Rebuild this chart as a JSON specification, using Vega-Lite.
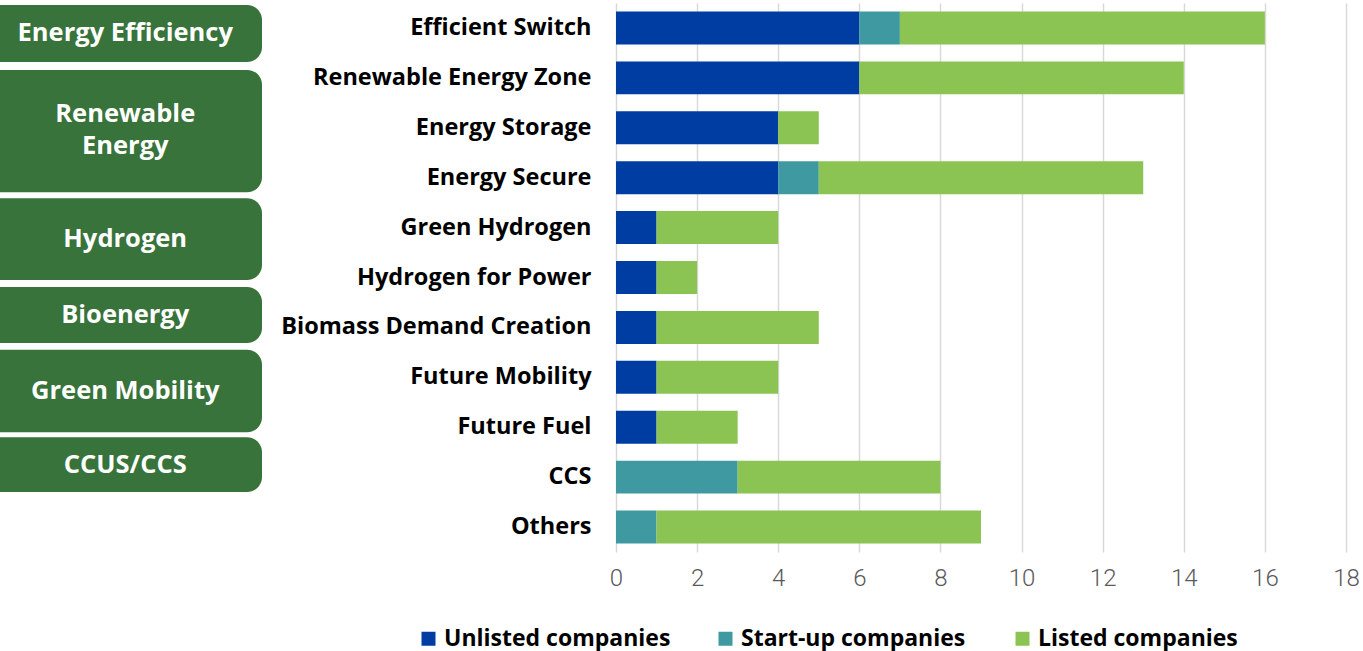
{
  "$schema": "https://vega.github.io/schema/vega-lite/v6.json",
  "padding": {"left": 0, "top": 3, "right": 6, "bottom": 6},
  "background": "white",
  "spacing": 354,
  "bounds": "flush",
  "config": {"view": {"stroke": null}, "font": "Open Sans"},
  "hconcat": [
    {
      "width": 262,
      "height": 549,
      "data": {
        "values": [
          {"group": "Energy Efficiency", "start": 0.04, "end": 1.18, "labelRow": 0.61},
          {"group": "Renewable Energy", "start": 1.34, "end": 3.79, "labelRow": 2.23},
          {"group": "Hydrogen", "start": 3.91, "end": 5.55, "labelRow": 4.73},
          {"group": "Bioenergy", "start": 5.69, "end": 6.81, "labelRow": 6.25},
          {"group": "Green Mobility", "start": 6.95, "end": 8.6, "labelRow": 7.78},
          {"group": "CCUS/CCS", "start": 8.7, "end": 9.8, "labelRow": 9.25}
        ]
      },
      "layer": [
        {
          "mark": {"type": "rect", "color": "#37733A", "cornerRadiusTopRight": 15, "cornerRadiusBottomRight": 15},
          "encoding": {
            "x": {"datum": 0, "type": "quantitative", "scale": {"domain": [0, 1]}, "axis": null},
            "x2": {"datum": 1},
            "y": {"field": "start", "type": "quantitative", "scale": {"domain": [0, 11], "reverse": true}, "axis": null},
            "y2": {"field": "end"}
          }
        },
        {
          "mark": {"type": "text", "color": "white", "fontWeight": "bold", "fontSize": 25.5, "font": "Open Sans", "lineBreak": "\n", "lineHeight": 32, "align": "center", "baseline": "middle"},
          "encoding": {
            "x": {"datum": 0.478, "type": "quantitative"},
            "y": {"field": "labelRow", "type": "quantitative"},
            "text": {"field": "group"}
          },
          "transform": [{"calculate": "datum.group == 'Renewable Energy' ? 'Renewable\\nEnergy' : datum.group", "as": "group"}]
        }
      ]
    },
    {
      "width": 730,
      "height": 549,
      "data": {
        "values": [
          {"category": "Efficient Switch", "type": "Unlisted companies", "count": 6},
          {"category": "Efficient Switch", "type": "Start-up companies", "count": 1},
          {"category": "Efficient Switch", "type": "Listed companies", "count": 9},
          {"category": "Renewable Energy Zone", "type": "Unlisted companies", "count": 6},
          {"category": "Renewable Energy Zone", "type": "Listed companies", "count": 8},
          {"category": "Energy Storage", "type": "Unlisted companies", "count": 4},
          {"category": "Energy Storage", "type": "Listed companies", "count": 1},
          {"category": "Energy Secure", "type": "Unlisted companies", "count": 4},
          {"category": "Energy Secure", "type": "Start-up companies", "count": 1},
          {"category": "Energy Secure", "type": "Listed companies", "count": 8},
          {"category": "Green Hydrogen", "type": "Unlisted companies", "count": 1},
          {"category": "Green Hydrogen", "type": "Listed companies", "count": 3},
          {"category": "Hydrogen for Power", "type": "Unlisted companies", "count": 1},
          {"category": "Hydrogen for Power", "type": "Listed companies", "count": 1},
          {"category": "Biomass Demand Creation", "type": "Unlisted companies", "count": 1},
          {"category": "Biomass Demand Creation", "type": "Listed companies", "count": 4},
          {"category": "Future Mobility", "type": "Unlisted companies", "count": 1},
          {"category": "Future Mobility", "type": "Listed companies", "count": 3},
          {"category": "Future Fuel", "type": "Unlisted companies", "count": 1},
          {"category": "Future Fuel", "type": "Listed companies", "count": 2},
          {"category": "CCS", "type": "Start-up companies", "count": 3},
          {"category": "CCS", "type": "Listed companies", "count": 5},
          {"category": "Others", "type": "Start-up companies", "count": 1},
          {"category": "Others", "type": "Listed companies", "count": 8}
        ]
      },
      "mark": {"type": "bar"},
      "encoding": {
        "y": {
          "field": "category",
          "type": "nominal",
          "sort": ["Efficient Switch", "Renewable Energy Zone", "Energy Storage", "Energy Secure", "Green Hydrogen", "Hydrogen for Power", "Biomass Demand Creation", "Future Mobility", "Future Fuel", "CCS", "Others"],
          "scale": {"paddingInner": 0.34, "paddingOuter": 0.17},
          "axis": {
            "title": null, "domain": false, "ticks": false, "labelPadding": 25,
            "labelFontSize": 23.5, "labelFontWeight": "bold", "labelColor": "#000000",
            "labelFont": "Open Sans", "labelLimit": 400
          }
        },
        "x": {
          "field": "count",
          "type": "quantitative",
          "stack": "zero",
          "scale": {"domain": [0, 18], "nice": false},
          "axis": {
            "title": null, "values": [0, 2, 4, 6, 8, 10, 12, 14, 16, 18], "domain": false, "ticks": false,
            "grid": true, "gridColor": "#d9d9d9", "gridWidth": 1.5,
            "labelFont": "Roboto", "labelFontWeight": 300, "labelFontSize": 24, "labelColor": "#595959",
            "labelPadding": 14, "labelFlush": false
          }
        },
        "color": {
          "field": "type",
          "type": "nominal",
          "scale": {
            "domain": ["Unlisted companies", "Start-up companies", "Listed companies"],
            "range": ["#003DA3", "#3E9AA0", "#8BC452"]
          },
          "legend": {
            "title": null, "orient": "none", "legendX": 417, "legendY": 624,
            "direction": "horizontal", "columns": 3, "gridAlign": "all", "columnPadding": 43,
            "symbolType": "square", "symbolSize": 196, "symbolStrokeWidth": 0, "symbolOpacity": 1,
            "labelFont": "Open Sans", "labelFontWeight": "bold", "labelFontSize": 23,
            "labelColor": "#000000", "labelOffset": 4, "labelLimit": 400
          }
        },
        "order": {"field": "type", "sort": "descending"}
      }
    }
  ]
}
